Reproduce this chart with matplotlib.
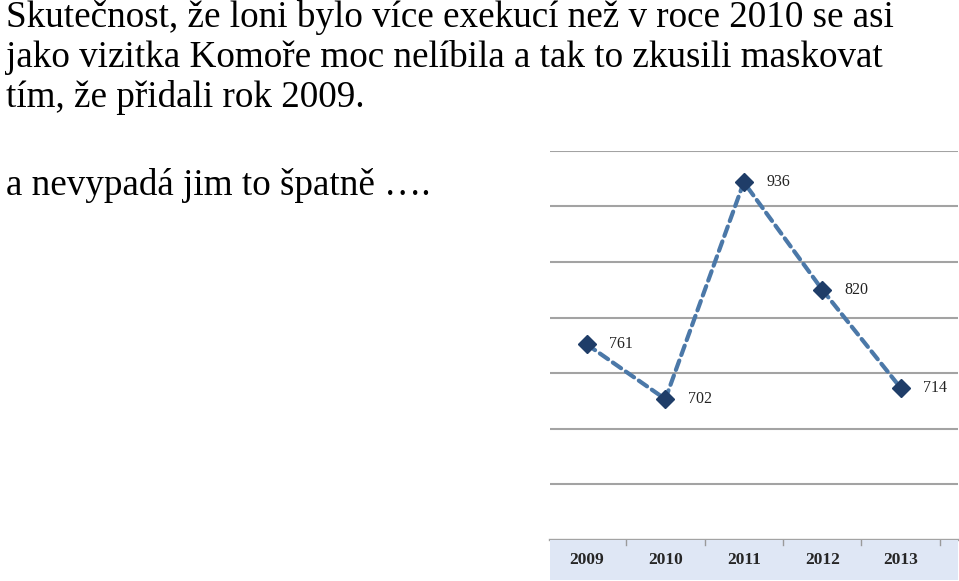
import matplotlib.pyplot as plt

# data
years = ['2009', '2010', '2011', '2012', '2013']
executions = [761, 702, 936, 820, 714]
grid_values = [610, 670, 730, 790, 850, 910, 970]

text_lines = [
    "Skutečnost, že loni bylo více exekucí než v roce 2010 se asi",
    "jako vizitka Komoře moc nelíbila a tak to zkusili maskovat",
    "tím, že přidali rok 2009.",
]
text_last = "a nevypadá jim to špatně …."

W, H = 959, 581
fig = plt.figure(figsize=(W / 100, H / 100), dpi=100)
fig.patch.set_facecolor('white')

serif = ['Liberation Serif', 'DejaVu Serif']

# text block top left
for i, line in enumerate(text_lines):
    fig.text(6 / W, 1 - (27 + 40 * i) / H, line, fontsize=26.7, family=serif,
             color='black', va='baseline', ha='left')
fig.text(6 / W, 1 - 195 / H, text_last, fontsize=26.7, family=serif,
         color='black', va='baseline', ha='left')

# chart
ax = fig.add_axes([550 / W, 1 - 540 / H, 408 / W, (540 - 150.7) / H])
ax.set_xlim(-0.47, 4.73)
ax.set_ylim(550, 970)
for g in grid_values:
    ax.axhline(g, color='#a3a3a3', lw=1.5, zorder=1)
ax.axhline(550, color='#a3a3a3', lw=1.7, zorder=1, clip_on=False)

x = list(range(len(years)))
ax.plot(x, executions, color='#4b78a8', lw=3.0, dashes=(2.4, 1.4),
        dash_capstyle='round', zorder=2)
ax.plot(x, executions, ls='none', marker='D', ms=9.5, color='#1f3d68',
        markeredgecolor='#1f3d68', zorder=3)
for xi, v in zip(x, executions):
    ax.annotate(str(v), (xi, v), xytext=(16, 0), textcoords='offset points',
                fontsize=11.5, family=serif, color='#222222',
                va='center', ha='left')

for s in ax.spines.values():
    s.set_visible(False)
ax.set_xticks([])
ax.set_yticks([])
ax.patch.set_alpha(0)

# category band below the axis
band = fig.add_axes([550 / W, 1 - 580 / H, 408 / W, 40 / H])
band.set_xlim(-0.47, 4.73)
band.set_ylim(0, 1)
band.set_facecolor('#dfe7f5')
for s in band.spines.values():
    s.set_visible(False)
band.set_xticks([])
band.set_yticks([])
for b in [0.5, 1.5, 2.5, 3.5, 4.5]:
    band.plot([b, b], [1, 0.87], color='#9a9a9a', lw=1)
for xi, yr in zip(x, years):
    band.text(xi, 0.5, yr, ha='center', va='center', fontsize=12.5,
              fontweight='bold', family=serif, color='#262626')

fig.savefig('out.png', dpi=100, facecolor='white')
